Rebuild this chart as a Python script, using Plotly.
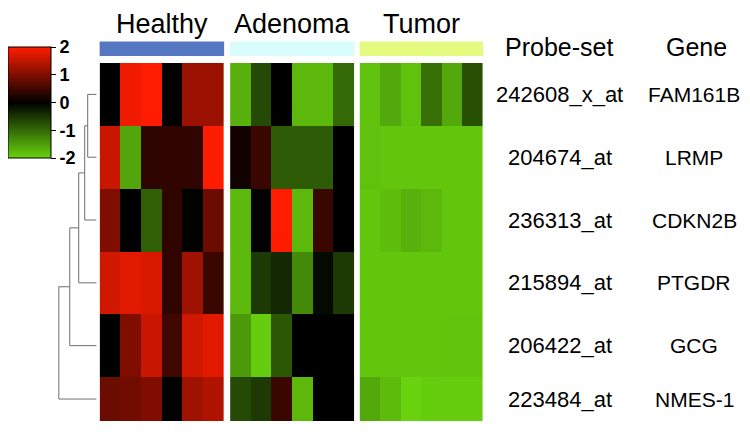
import plotly.graph_objects as go

# the page body adds an 8px margin, so the figure is drawn 16px smaller
OFF = 8
W, H = 750 - 2 * OFF, 445 - 2 * OFF

GROUPS = ["Healthy", "Adenoma", "Tumor"]
GROUP_COLORS = ["#5677c1", "#d9fcfc", "#e5fb80"]
PROBES = ["242608_x_at", "204674_at", "236313_at", "215894_at", "206422_at", "223484_at"]
GENES = ["FAM161B", "LRMP", "CDKN2B", "PTGDR", "GCG", "NMES-1"]

# expression z-scores, rows = probes, 6 samples per group
HEALTHY = [
    [0.0, 1.88, 2.0, 0.0, 1.21, 1.21],
    [1.57, -1.57, 0.36, 0.38, 0.38, 2.0],
    [1.0, 0.0, -0.91, 0.38, 0.0, 0.83],
    [1.63, 1.76, 1.7, 0.38, 1.25, 0.45],
    [0.0, 1.0, 1.57, 0.5, 1.63, 1.76],
    [0.83, 0.88, 1.0, 0.0, 1.25, 1.38],
]
ADENOMA = [
    [-1.68, -0.7, 0.0, -1.76, -1.76, -1.0],
    [0.13, 0.45, -0.88, -0.88, -0.88, 0.0],
    [-1.76, 0.0, 2.0, -1.76, 0.45, 0.0],
    [-1.76, -0.55, -0.38, -1.31, -0.1, -0.55],
    [-1.47, -1.95, -0.84, 0.0, 0.0, 0.0],
    [-0.7, -0.55, 0.45, -1.76, 0.0, 0.0],
]
TUMOR = [
    [-1.85, -1.6, -1.85, -1.07, -1.6, -0.76],
    [-1.85, -1.89, -1.89, -1.89, -1.89, -1.89],
    [-1.89, -1.8, -1.68, -1.76, -1.89, -1.89],
    [-1.89, -1.89, -1.89, -1.89, -1.89, -1.89],
    [-1.89, -1.89, -1.89, -1.89, -1.87, -1.87],
    [-1.6, -1.78, -2.0, -1.95, -1.95, -1.95],
]

TICK_VALS = [-2, -1, 0, 1, 2]
TICK_TEXT = ["-2", "-1", "0", "1", "2"]

# row clustering: (left node, right node, height); new nodes numbered from 6
MERGES = [(0, 1, 0.9), (6, 2, 1.2), (7, 3, 1.8), (8, 4, 2.7), (9, 5, 3.8)]

COLORSCALE = [[0, "#68d20e"], [0.5, "#000000"], [1, "#ff1c00"]]
FONT = "Liberation Sans, Arial, sans-serif"

Y_TOP, Y_BOTTOM = -0.5, 5.2


def px(x):
    return (x - OFF) / W


def py(y):
    return 1 - (y - OFF) / H


def row_center(i):
    lo = max(i - 0.5, Y_TOP)
    hi = min(i + 0.5, Y_BOTTOM)
    return (lo + hi) / 2


fig = go.Figure()

domains = [(97, 222), (228, 353), (358, 482)]
for k, (name, z) in enumerate(zip(GROUPS, [HEALTHY, ADENOMA, TUMOR])):
    ax = "" if k == 0 else str(k + 1)
    fig.add_trace(go.Heatmap(
        z=z, x=list(range(6)), y=list(range(6)),
        zmin=-2, zmax=2, colorscale=COLORSCALE,
        showscale=(k == 0),
        colorbar=dict(
            x=px(5), xanchor="left", y=py(47), yanchor="top",
            len=111, lenmode="pixels", thickness=43, thicknessmode="pixels",
            xpad=0, ypad=0, outlinewidth=1, outlinecolor="black",
            ticks="outside", ticklen=5, tickcolor="black",
            tickvals=TICK_VALS, ticktext=TICK_TEXT,
            tickfont=dict(family=FONT, size=18, color="black", weight="bold"),
        ),
        xaxis="x" + ax, yaxis="y", hoverinfo="z", name=name,
    ))
    fig.update_layout({
        "xaxis" + ax: dict(domain=[px(domains[k][0]), px(domains[k][1])],
                           range=[-0.5, 5.5], visible=False, fixedrange=True),
    })
    fig.add_shape(type="rect", xref="paper", yref="paper",
                  x0=px(domains[k][0]), x1=px(domains[k][1]),
                  y0=py(56), y1=py(41.5), fillcolor=GROUP_COLORS[k], line_width=0)
    fig.add_annotation(text=name, xref="paper", yref="paper",
                       x=px((domains[k][0] + domains[k][1]) / 2), y=1,
                       xanchor="center", yanchor="top", showarrow=False, borderpad=0,
                       font=dict(family=FONT, size=27, color="black"))

# dendrogram lines built from the merge table
node_y = {i: row_center(i) for i in range(6)}
node_h = {i: 0.0 for i in range(6)}
dx, dy = [], []
for n, (a, b, h) in enumerate(MERGES):
    dx += [node_h[a], h, h, node_h[b], None]
    dy += [node_y[a], node_y[a], node_y[b], node_y[b], None]
    node_y[6 + n] = (node_y[a] + node_y[b]) / 2
    node_h[6 + n] = h
fig.add_trace(go.Scatter(x=dx, y=dy, mode="lines", xaxis="x4", yaxis="y",
                         line=dict(color="#6e6e6e", width=1), hoverinfo="skip",
                         showlegend=False))

for i in range(6):
    fig.add_annotation(text=PROBES[i], xref="paper", yref="y", x=px(559), y=row_center(i),
                       xanchor="center", yanchor="middle", showarrow=False, borderpad=0,
                       font=dict(family=FONT, size=22, color="black"))
    fig.add_annotation(text=GENES[i], xref="paper", yref="y", x=px(694), y=row_center(i),
                       xanchor="center", yanchor="middle", showarrow=False, borderpad=0,
                       font=dict(family=FONT, size=21, color="black"))

for text, x in [("Probe-set", 558), ("Gene", 696)]:
    fig.add_annotation(text=text, xref="paper", yref="paper", x=px(x), y=py(47),
                       xanchor="center", yanchor="middle", showarrow=False, borderpad=0,
                       font=dict(family=FONT, size=25, color="black"))

fig.update_layout(
    width=W, height=H,
    margin=dict(l=0, r=0, t=0, b=0),
    paper_bgcolor="white", plot_bgcolor="white",
    showlegend=False,
    yaxis=dict(domain=[py(421), py(63)], range=[Y_BOTTOM, Y_TOP], visible=False, fixedrange=True),
    xaxis4=dict(domain=[px(45), px(94)], range=[4.9, 0], visible=False, fixedrange=True),
)

fig.write_html("out.html")
